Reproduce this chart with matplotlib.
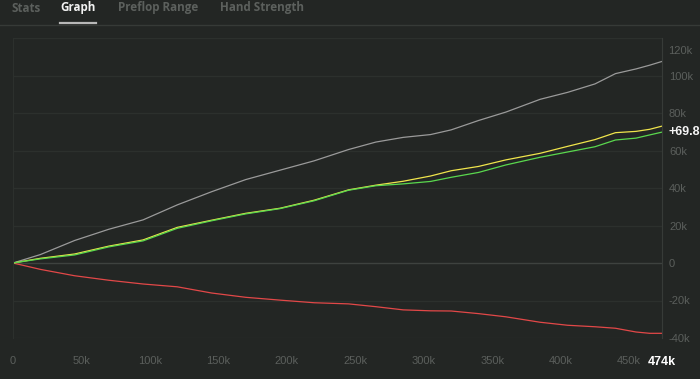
import matplotlib.pyplot as plt

# hands played (thousands) and cumulative winnings (thousands)
hands = [0, 20, 45, 70, 95, 120, 145, 170, 195, 220, 245, 265, 285, 305,
         320, 340, 360, 385, 405, 425, 440, 455, 465, 474]
grey_vals = [0, 4.5, 12, 18, 23, 31, 38, 44.5, 49.5, 54.5, 60.5, 64.5, 67, 68.5,
             71, 76, 80.5, 87.3, 91, 95.5, 101, 103.5, 105.5, 107.5]
yellow_vals = [0, 2.5, 4.8, 9, 12.3, 19, 22.8, 26.5, 29.2, 33.5, 39, 41.5, 43.6, 46.4,
               49.2, 51.5, 55, 58.5, 62.2, 65.8, 69.5, 70.2, 71.3, 73]
green_vals = [0, 2.2, 4.3, 8.6, 11.8, 18.5, 22.5, 26.2, 29, 33.2, 38.8, 41.2, 42.2, 43.5,
              45.7, 48.3, 52.3, 56.4, 59.2, 62, 65.6, 66.6, 68.3, 69.8]
red_vals = [0, -3.4, -6.8, -9.2, -11.2, -12.7, -16, -18.3, -19.8, -21.2, -21.8, -23.3, -25, -25.5,
            -25.6, -27, -28.7, -31.6, -33.2, -34, -34.8, -36.8, -37.5, -37.5]

x_ticks = [0, 50, 100, 150, 200, 250, 300, 350, 400, 450, 474]
y_ticks = [-40, -20, 0, 20, 40, 60, 80, 100, 120]
tabs = ["Stats", "Graph", "Preflop Range", "Hand Strength"]
tab_x = [12, 60, 118, 220]

BG = '#232624'
GRID = '#2c302d'
LABEL = '#5b5f5c'


def kfmt(v):
    return '0' if v == 0 else '%dk' % v


def main():
    plt.rcParams['font.family'] = ['Liberation Sans', 'DejaVu Sans']
    fig = plt.figure(figsize=(7, 3.79), dpi=100)
    fig.patch.set_facecolor(BG)
    W, H = 700, 379

    # tab bar
    for name, x in zip(tabs, tab_x):
        active = name == "Graph"
        fig.text(x / W, 1 - 8 / H, name, fontsize=8.4, fontweight='bold',
                 family=['Open Sans', 'DejaVu Sans'],
                 color='#f2f2f2' if active else '#5c605d', va='center', ha='left')
    fig.add_artist(plt.Line2D([0, 1], [1 - 24.5 / H] * 2, color='#363a37', lw=1))
    fig.add_artist(plt.Line2D([60 / W, 96 / W], [1 - 22.5 / H] * 2, color='#b8b8b8', lw=1.6))

    ax = fig.add_axes([13 / W, 1 - 338 / H, (662 - 13) / W, (338 - 38) / H])
    ax.set_facecolor(BG)

    ax.plot(hands, grey_vals, color='#9a9a9a', lw=0.9)
    ax.plot(hands, red_vals, color='#e24848', lw=0.9)
    ax.plot(hands, yellow_vals, color='#f0e54c', lw=0.9)
    ax.plot(hands, green_vals, color='#5ad84e', lw=0.9)

    ax.set_xlim(0, 474)
    ax.set_ylim(-40, 120)

    for y in y_ticks:
        ax.axhline(y, color='#3e423f' if y == 0 else GRID, lw=1, zorder=0)

    for s in ['top', 'bottom']:
        ax.spines[s].set_visible(False)
    ax.spines['left'].set_color(GRID)
    ax.spines['right'].set_color('#373b38')

    ax.yaxis.tick_right()
    ax.set_yticks(y_ticks)
    ax.set_yticklabels([kfmt(v) if v != 120 else '' for v in y_ticks])
    ax.set_xticks(x_ticks)
    ax.set_xticklabels([kfmt(v) for v in x_ticks])
    ax.tick_params(length=0, labelsize=8, labelcolor=LABEL)
    ax.tick_params(axis='y', pad=5)
    ax.tick_params(axis='x', pad=13)
    last = ax.get_xticklabels()[-1]
    last.set_color('white')
    last.set_fontweight('bold')
    last.set_fontsize(9)

    # top label sits below its gridline because the plot is clipped there
    ax.annotate('120k', xy=(1, 120), xycoords=('axes fraction', 'data'),
                xytext=(4.5, -9), textcoords='offset points', va='center',
                ha='left', fontsize=8, color=LABEL)
    ax.annotate('+%.1f' % green_vals[-1], xy=(1, green_vals[-1]),
                xycoords=('axes fraction', 'data'), xytext=(4.5, 0),
                textcoords='offset points', va='center', ha='left',
                fontsize=9, fontweight='bold', color='#f4f4f4',
                annotation_clip=False)

    fig.savefig('out.png', dpi=100, facecolor=BG)


if __name__ == '__main__':
    main()
